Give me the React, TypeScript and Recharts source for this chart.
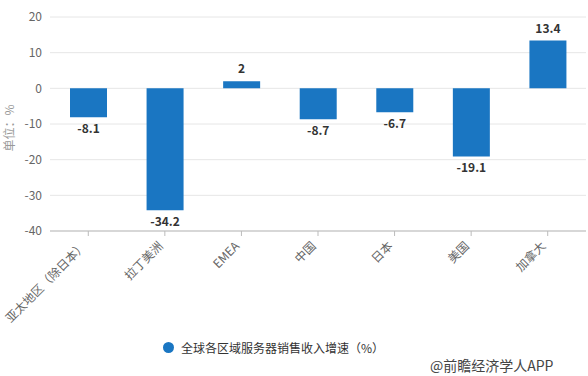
import React from "react";
import {
  BarChart,
  Bar,
  XAxis,
  YAxis,
  CartesianGrid,
  LabelList,
  Legend,
} from "recharts";

// Regions and their server revenue growth (%)
const regions = [
  "亚太地区（除日本）",
  "拉丁美洲",
  "EMEA",
  "中国",
  "日本",
  "美国",
  "加拿大",
];
const growth = [-8.1, -34.2, 2, -8.7, -6.7, -19.1, 13.4];
const yTicks = [20, 10, 0, -10, -20, -30, -40];

const seriesName = "全球各区域服务器销售收入增速（%）";
const barColor = "#1a76c2";

const data = regions.map((name, i) => ({ name, value: growth[i] }));

// Rotated category labels, anchored at the tick
const AngledTick = (props: any) => {
  const { x, y, payload } = props;
  return (
    <g transform={`translate(${x - 4},${y + 6})`}>
      <text
        transform="rotate(-45)"
        textAnchor="end"
        fill="#666"
        fontSize={12}
        dy={4}
      >
        {payload.value}
      </text>
    </g>
  );
};

// Value label: above positive bars, below negative ones
const ValueLabel = (props: any) => {
  const { x, y, width, height, value } = props;
  const cx = x + width / 2;
  const top = Math.min(y, y + height);
  const bottom = Math.max(y, y + height);
  const ty = value < 0 ? bottom + 16 : top - 8;
  return (
    <text
      x={cx}
      y={ty}
      textAnchor="middle"
      fill="#333"
      fontSize={12}
      fontWeight="bold"
    >
      {value}
    </text>
  );
};

// Unit label on the left of the value axis
const UnitLabel = () => {
  const cy = 128;
  return (
    <text
      x={14}
      y={cy}
      transform={`rotate(-90, 14, ${cy})`}
      textAnchor="middle"
      fill="#999"
      fontSize={12}
    >
      单位：%
    </text>
  );
};

const LegendContent = () => (
  <div
    style={{
      display: "flex",
      alignItems: "center",
      fontSize: 12,
      color: "#333",
      paddingLeft: 163,
      paddingTop: 8,
    }}
  >
    <span
      style={{
        width: 11,
        height: 11,
        borderRadius: "50%",
        background: barColor,
        display: "inline-block",
        marginRight: 7,
      }}
    />
    {seriesName}
  </div>
);

const App: React.FC = () => {
  return (
    <div
      style={{
        position: "absolute",
        left: 0,
        top: 0,
        width: 588,
        height: 376,
        overflow: "hidden",
        fontFamily: "'Noto Sans CJK SC', 'Noto Sans', sans-serif",
        background: "#fff",
      }}
    >
      <BarChart
        width={588}
        height={376}
        data={data}
        margin={{ top: 17, right: 2, left: 0, bottom: 0 }}
        barCategoryGap={20}
      >
        <CartesianGrid vertical={false} stroke="#e6e6e6" />
        <XAxis
          dataKey="name"
          interval={0}
          height={100}
          tick={<AngledTick />}
          axisLine={{ stroke: "#bbb" }}
          tickLine={{ stroke: "#bbb" }}
          tickSize={5}
        />
        <YAxis
          width={50}
          domain={[-40, 20]}
          ticks={yTicks}
          interval={0}
          axisLine={false}
          tickLine={false}
          tick={{ fill: "#666", fontSize: 12 }}
          label={<UnitLabel />}
        />
        <Legend
          verticalAlign="bottom"
          height={45}
          content={<LegendContent />}
        />
        <Bar
          dataKey="value"
          name={seriesName}
          fill={barColor}
          isAnimationActive={false}
        >
          <LabelList dataKey="value" content={<ValueLabel />} />
        </Bar>
      </BarChart>
      <div
        style={{
          position: "absolute",
          left: 430,
          top: 357,
          fontSize: 14,
          lineHeight: "16px",
          color: "#444",
          whiteSpace: "nowrap",
        }}
      >
        @前瞻经济学人APP
      </div>
    </div>
  );
};

export default App;
